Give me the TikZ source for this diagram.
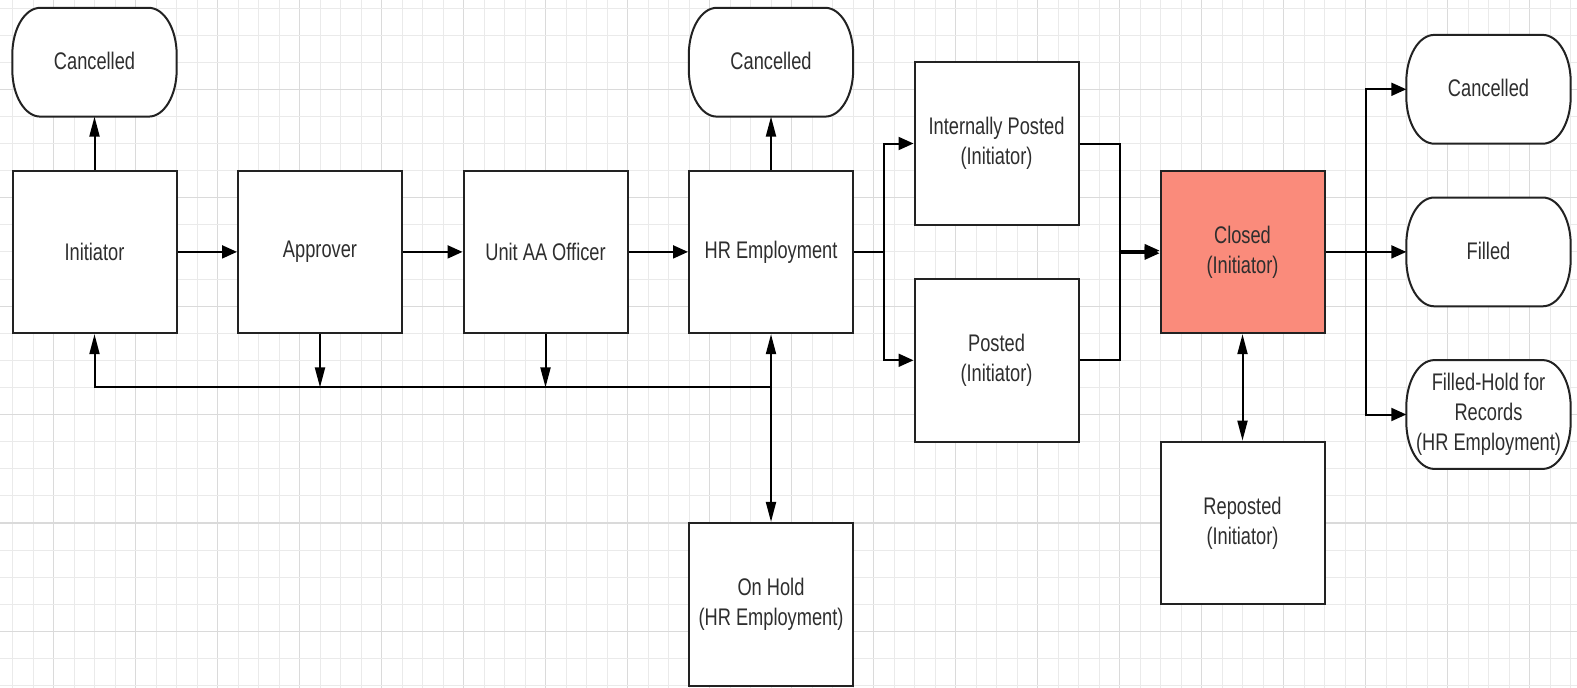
\documentclass[tikz,border=0pt]{standalone}
\usepackage{fontspec}
\setmainfont{Liberation Sans}[FakeStretch=0.76]
\usetikzlibrary{arrows.meta,calc}
\definecolor{txt}{HTML}{2E2E2E}
\definecolor{edge}{HTML}{222222}
\definecolor{gridmin}{HTML}{EAEAEA}
\definecolor{gridmaj}{HTML}{DADADA}
\definecolor{salmon}{HTML}{FA8B7B}
\pgfdeclarelayer{bg}
\pgfdeclarelayer{mid}
\pgfsetlayers{bg,mid,main}
\newcommand\stad[1]{%
  \begin{pgfonlayer}{mid}
  \draw[stadline] ([xshift=28pt]#1.north west) -- ([xshift=-28pt]#1.north east)
    arc[start angle=90,end angle=0,x radius=28pt,y radius=47pt]
    -- ([yshift=47pt]#1.south east)
    arc[start angle=0,end angle=-90,x radius=28pt,y radius=47pt]
    -- ([xshift=28pt]#1.south west)
    arc[start angle=270,end angle=180,x radius=28pt,y radius=47pt]
    -- ([yshift=-47pt]#1.north west)
    arc[start angle=180,end angle=90,x radius=28pt,y radius=47pt] -- cycle;
  \end{pgfonlayer}}
\begin{document}
\begin{tikzpicture}[x=1pt,y=-1pt,
  lab/.style={font=\fontsize{24}{30}\selectfont, text=txt, align=center},
  box/.style={lab, draw=edge, line width=2pt, fill=white, minimum width=164pt, minimum height=162.6pt, inner sep=0pt},
  term/.style={lab, minimum width=164pt, minimum height=108.4pt, inner sep=0pt},
  stadline/.style={draw=edge, line width=2pt, fill=white},
  conn/.style={draw=black, line width=2pt},
  harr/.style={conn, -{Triangle[length=15pt,width=13pt]}},
  varr/.style={conn, -{Triangle[length=20pt,width=10pt]}},
  vboth/.style={conn, {Triangle[length=20pt,width=10pt]}-{Triangle[length=20pt,width=10pt]}}
]
\useasboundingbox (0,0) rectangle (1577,688);
\begin{pgfonlayer}{bg}
\fill[white] (0,0) rectangle (1577,688);
\foreach \i in {0,...,76}{
  \pgfmathtruncatemacro\m{mod(\i,4)}
  \ifnum\m=2 \draw[gridmaj, line width=1.2pt] ({12.5+20.5*\i},0) -- ({12.5+20.5*\i},688);
  \else \draw[gridmin, line width=1pt] ({12.5+20.5*\i},0) -- ({12.5+20.5*\i},688); \fi
}
\foreach \j in {0,...,25}{
  \pgfmathtruncatemacro\m{mod(\j,4)}
  \ifnum\m=3 \draw[gridmaj, line width=1.2pt] (0,{8+27.1*\j}) -- (1577,{8+27.1*\j});
  \else \draw[gridmin, line width=1pt] (0,{8+27.1*\j}) -- (1577,{8+27.1*\j}); \fi
}
\end{pgfonlayer}

% main row
\node[box] (ini) at (94.5,251.9) {Initiator};
\node[box] (app) at (320,251.9) {Approver};
\node[box] (unit) at (545.5,251.9) {Unit AA Officer};
\node[box] (hr) at (771,251.9) {HR Employment};
\node[box] (ip) at (996.5,143.5) {Internally Posted\\(Initiator)};
\node[box] (pst) at (996.5,360.3) {Posted\\(Initiator)};
\node[box, fill=salmon] (closed) at (1242.5,251.9) {Closed\\(Initiator)};
\node[box] (rep) at (1242.5,522.9) {Reposted\\(Initiator)};
\node[box] (hold) at (771,604.2) {On Hold\\(HR Employment)};

% terminators
\node[term] (c1) at (94.5,62.2) {\raisebox{3pt}{Cancelled}};
\node[term] (c2) at (771,62.2) {\raisebox{3pt}{Cancelled}};
\node[term] (c3) at (1488.5,89.3) {\raisebox{2pt}{Cancelled}};
\node[term] (fil) at (1488.5,251.9) {\raisebox{2pt}{Filled}};
\node[term] (fh) at (1488.5,414.5) {Filled-Hold for\\Records\\(HR Employment)};
\stad{c1}\stad{c2}\stad{c3}\stad{fil}\stad{fh}

% helper coordinates
\coordinate (fb) at (0,387.4);
\coordinate (b1) at (883.75,251.9);
\coordinate (b2a) at (1119.5,250.6);
\coordinate (b2b) at (1119.5,253.2);
\coordinate (b3) at (1365.5,251.9);

% connectors
\draw[varr] (ini.north) -- (c1.south);
\draw[varr] (hr.north) -- (c2.south);
\draw[harr] (ini.east) -- (app.west);
\draw[harr] (app.east) -- (unit.west);
\draw[harr] (unit.east) -- (hr.west);
\draw[varr] (app.south) -- (app.south |- fb);
\draw[varr] (unit.south) -- (unit.south |- fb);
\draw[varr] (hr.south |- fb) -| (ini.south);
\draw[vboth] (hr.south) -- (hold.north);
\draw[conn] (hr.east) -- (b1);
\draw[harr] (b1) |- (ip.west);
\draw[harr] (b1) |- (pst.west);
\draw[harr] (ip.east) -| (b2a) -- (closed.west |- b2a);
\draw[harr] (pst.east) -| (b2b) -- (closed.west |- b2b);
\draw[vboth] (closed.south) -- (rep.north);
\draw[harr] (closed.east) -- (fil.west);
\draw[harr] (b3) |- (c3.west);
\draw[harr] (b3) |- (fh.west);
\end{tikzpicture}
\end{document}
